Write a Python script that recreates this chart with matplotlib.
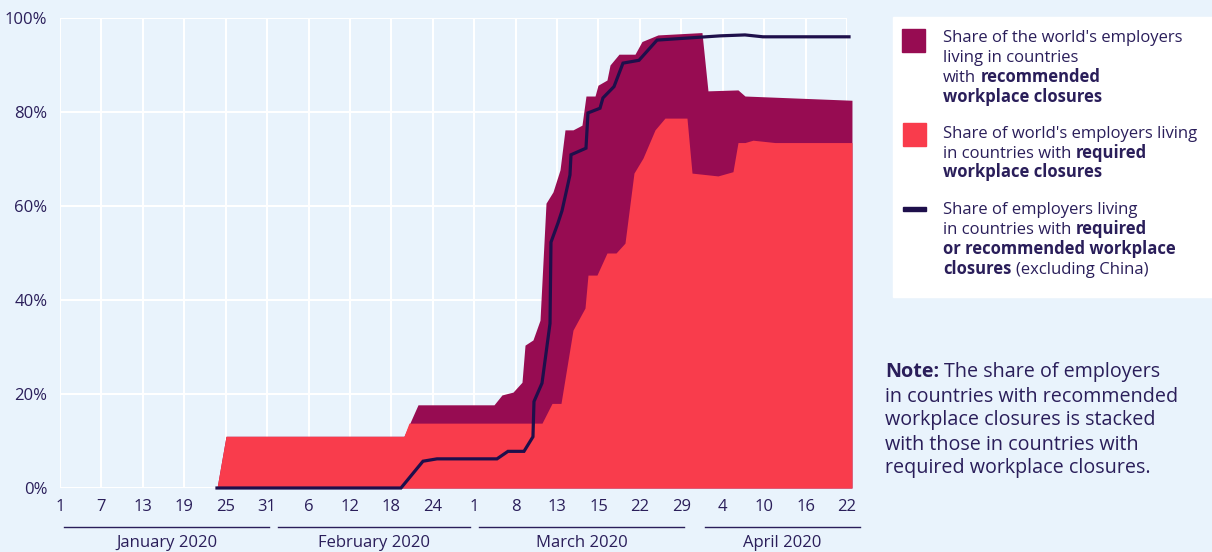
import matplotlib
matplotlib.use("Agg")
from matplotlib import pyplot as plt
import matplotlib.patches as mpatches
import matplotlib.transforms as mtransforms

# x is in chart days counted from 1 January 2020 (tick every 6 days)
required_days = [22.74, 24.05, 49.83, 50.55, 69.82, 71.27, 72.57, 74.31, 76.05, 76.48,
                 77.78, 79.23, 80.54, 81.84, 83.14, 84.45, 86.19, 87.63, 90.82, 91.55,
                 95.31, 97.48, 98.21, 99.22, 100.38, 103.57, 114.72]
required_pct = [0, 11, 11, 13.8, 13.8, 18, 18, 33.6, 38.3, 45.3,
                45.3, 50, 50, 52.1, 67, 70.2, 76.2, 78.7, 78.7, 67,
                66.4, 67.3, 73.5, 73.5, 74, 73.5, 73.5]

# required + recommended (stacked top edge)
stacked_days = [22.74, 24.05, 49.83, 51.86, 62.87, 64.02, 65.62, 66.92, 67.36, 68.51,
                69.53, 70.40, 71.41, 72.43, 73.15, 74.31, 75.61, 76.19, 77.50, 77.93,
                79.23, 79.67, 80.97, 83.29, 84.30, 86.62, 92.99, 93.86, 98.21, 99.22,
                114.72]
stacked_pct = [0, 11, 11, 17.7, 17.7, 19.8, 20.4, 22.5, 30.4, 31.5,
               35.7, 60.6, 63, 67.7, 76.2, 76.2, 77.2, 83.4, 83.4, 85.7,
               86.8, 90, 92.3, 92.3, 95, 96.4, 96.9, 84.5, 84.7, 83.4,
               82.5]

ex_china_days = [22.74, 49.39, 52.58, 54.61, 63.30, 64.89, 67.21, 68.51, 68.66, 69.82,
                 70.98, 71.12, 72.14, 72.72, 73.87, 74.02, 76.19, 76.48, 78.22, 78.65,
                 80.25, 81.55, 83.87, 86.48, 95.60, 99.22, 101.83, 114.29]
ex_china_pct = [0, 0, 5.7, 6.2, 6.2, 7.8, 7.8, 10.9, 18.4, 22.3,
                35, 52.3, 56.4, 59, 66.6, 70.9, 72.3, 79.8, 80.8, 83,
                85.4, 90.4, 91, 95.3, 96.2, 96.4, 96, 96]

tick_labels = ["1", "7", "13", "19", "25", "31", "6", "12", "18", "24",
               "1", "8", "13", "15", "22", "29", "4", "10", "16", "22"]
months = ["January 2020", "February 2020", "March 2020", "April 2020"]
month_spans = [(0.6, 30.3), (31.6, 59.4), (60.7, 90.4), (93.4, 115.9)]

BG = "#e9f3fc"
MAROON = "#970c52"
RED = "#f93c4c"
NAVY = "#1e0f4b"
TXT = "#2a1e5a"
FONT = "Open Sans"

plt.rcParams["font.family"] = [FONT, "DejaVu Sans"]

fig = plt.figure(figsize=(12.12, 5.52), dpi=100, facecolor=BG)
ax = fig.add_axes([60 / 1212, 1 - 488 / 552, 787 / 1212, 470 / 552])
ax.set_facecolor(BG)

ax.fill_between(stacked_days, 0, stacked_pct, color=MAROON, lw=0, clip_on=False, zorder=2)
ax.fill_between(required_days, 0, required_pct, color=RED, lw=0, clip_on=False, zorder=3)
ax.plot(ex_china_days, ex_china_pct, color=NAVY, lw=2.3, clip_on=False, zorder=4,
        solid_joinstyle="miter")

ax.set_xlim(0, 114)
ax.set_ylim(0, 100)
ax.set_xticks([6 * i for i in range(len(tick_labels))])
ax.set_xticklabels(tick_labels)
ax.set_yticks(range(0, 101, 20))
ax.set_yticklabels([f"{v}%" for v in range(0, 101, 20)])
ax.tick_params(axis="both", length=0, labelsize=12, colors=TXT)
ax.tick_params(axis="y", pad=9)
ax.tick_params(axis="x", pad=8)
ax.grid(True, color="white", lw=1.5)
ax.set_axisbelow(True)
for s in ax.spines.values():
    s.set_visible(False)

# month brackets under the axis
trans = mtransforms.blended_transform_factory(ax.transData, ax.transAxes)
for name, (a, b) in zip(months, month_spans):
    ax.plot([a, b], [-0.083, -0.083], color=TXT, lw=1, transform=trans, clip_on=False)
    ax.text((a + b) / 2, -0.117, name, transform=trans, ha="center", va="center",
            fontsize=12, color=TXT)

renderer = fig.canvas.get_renderer()


def px(x, y):
    return x / 1212, 1 - y / 552


def rich_line(x, y, parts, size):
    # parts: list of (text, weight); each piece starts after the previous one
    fx, fy = px(x, y)
    space = 0.27 * size / 72 * 100 / 1212
    for txt, w in parts:
        t = fig.text(fx, fy, txt, fontsize=size, fontweight=w, color=TXT,
                     va="baseline", ha="left")
        bb = t.get_window_extent(renderer)
        fx += bb.width / 1212 + space


# legend box
fig.patches.append(mpatches.Rectangle(px(893, 297), (1212 - 893) / 1212, 280 / 552,
                                      transform=fig.transFigure, color="white", zorder=0))
fig.patches.append(mpatches.Rectangle(px(902, 52), 23 / 1212, 23 / 552,
                                      transform=fig.transFigure, color=MAROON))
fig.patches.append(mpatches.Rectangle(px(903, 146), 23 / 1212, 23 / 552,
                                      transform=fig.transFigure, color=RED))
fig.patches.append(mpatches.Rectangle(px(903, 211), 23 / 1212, 4.5 / 552,
                                      transform=fig.transFigure, color=NAVY))

LS = 12
lx = 943
rich_line(lx, 42.5, [("Share of the world's employers", "normal")], LS)
rich_line(lx, 62.5, [("living in countries", "normal")], LS)
rich_line(lx, 82.5, [("with", "normal"), ("recommended", "bold")], LS)
rich_line(lx, 102.5, [("workplace closures", "bold")], LS)

rich_line(lx, 137.5, [("Share of world's employers living", "normal")], LS)
rich_line(lx, 157.5, [("in countries with", "normal"), ("required", "bold")], LS)
rich_line(lx, 177, [("workplace closures", "bold")], LS)

rich_line(lx, 214, [("Share of employers living", "normal")], LS)
rich_line(lx, 234, [("in countries with", "normal"), ("required", "bold")], LS)
rich_line(lx, 254, [("or recommended workplace", "bold")], LS)
rich_line(lx, 274, [("closures", "bold"), ("(excluding China)", "normal")], LS)

NS = 14.2
nx = 885
rich_line(nx, 377, [("Note:", "bold"), ("The share of employers", "normal")], NS)
rich_line(nx, 401.5, [("in countries with recommended", "normal")], NS)
rich_line(nx, 425.5, [("workplace closures is stacked", "normal")], NS)
rich_line(nx, 449.5, [("with those in countries with", "normal")], NS)
rich_line(nx, 473.5, [("required workplace closures.", "normal")], NS)

fig.savefig("out.png", dpi=100, facecolor=BG)
